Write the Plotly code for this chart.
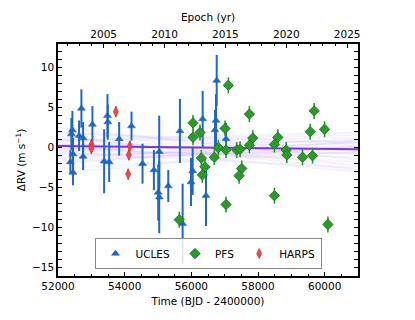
import plotly.graph_objects as go

# UCLES radial velocities (BJD - 2400000, m/s)
t_ucles = [52372, 52401, 52432, 52451, 52451, 52632, 52702, 52753, 52753, 53033,
           53384, 53484, 53494, 53535, 53835, 54205, 54536, 54877, 55007, 55037,
           55037, 55308, 55658, 55739, 55989, 56040, 56340, 56440, 56711, 56741,
           56761, 57041]
rv_ucles = [-1.8, 1.7, 2.2, -0.8, -3.1, 1.5, 4.9, 1.2, -1.1, 2.9,
            -1.7, 4.0, 3.2, -1.8, 1.1, 2.7, -2.0, -2.8, -5.6, -0.5,
            -6.2, -4.8, 2.1, -9.5, -4.3, -2.9, 3.6, -6.0, 2.2, 3.4,
            8.4, 1.1]
err_ucles = [1.5, 2.0, 2.4, 2.0, 1.6, 1.9, 2.4, 2.0, 1.7, 2.3,
             4.0, 2.7, 2.2, 2.5, 2.1, 1.8, 2.5, 2.5, 3.5, 4.5,
             4.5, 2.0, 4.0, 5.0, 3.0, 3.0, 3.5, 3.8, 2.5, 3.3,
             3.2, 2.0]

# PFS
t_pfs = [55638, 56050, 56050, 56260, 56300, 56410, 56330, 56690, 56811, 57011,
         57041, 57041, 57111, 57362, 57462, 57512, 57432, 57742, 57843, 57742,
         58493, 58594, 58493, 58845, 58865, 59335, 59636, 59566, 59686, 59997,
         60098]
rv_pfs = [-9.0, 3.1, 1.3, 1.9, -1.3, -2.4, -3.4, -1.2, 0.0, 2.4,
          -0.3, -7.1, 7.8, -0.3, -0.2, -2.6, -3.5, 4.2, 1.2, 0.3,
          0.4, 1.3, -6.0, -0.3, -0.9, -1.2, -1.0, 2.0, 4.6, 2.3,
          -9.6]
err_pfs = [1.0] * len(t_pfs)

# HARPS
t_harps = [53003, 53003, 53734, 54125, 54105, 54155]
rv_harps = [0.4, -0.1, 4.5, -0.9, -3.3, 0.2]
err_harps = [0.7, 0.7, 0.7, 0.7, 0.7, 0.7]

# best-fit trend and posterior draws (value at left / right end)
t_ends = [52000, 61000]
rv_best = [0.2, -0.2]
fan_left = [2.5, 1.8, 1.2, 0.8, 0.5, 0.3, 0.1, -0.2, -0.5, -0.8, -1.1, -1.5,
            -2.0, -2.6, -3.2, 1.5, 0.9, -0.3, -1.3, 2.0, -0.6, 0.4, -1.8, 1.0]
fan_right = [-1.5, 0.6, -2.2, 1.2, -0.8, 0.9, -1.8, 0.5, 1.0, -0.6, 0.2, -0.1,
             0.8, -0.5, 0.3, -2.8, 1.6, -1.2, 0.7, -0.4, -2.5, -3.0, 0.1, 1.9]

year_range = [2001.247, 2025.888]

blue = '#1f66c4'
green = '#2a9a2a'
red = '#f04848'
purple = '#7b35e0'
font = 'DejaVu Sans'

fig = go.Figure()

fx, fy = [], []
for a, b in zip(fan_left, fan_right):
    fx += t_ends + [None]
    fy += [a, b, None]
fig.add_trace(go.Scatter(x=fx, y=fy, mode='lines', showlegend=False,
                         line=dict(color='rgba(123,53,224,0.06)', width=2),
                         hoverinfo='skip'))
fig.add_trace(go.Scatter(x=t_ends, y=rv_best, mode='lines', showlegend=False,
                         line=dict(color=purple, width=2)))

fig.add_trace(go.Scatter(
    x=t_ucles, y=rv_ucles, mode='markers', name='UCLES',
    error_y=dict(type='data', array=err_ucles, color=blue, thickness=2, width=0),
    marker=dict(symbol='triangle-up', size=7, color=blue,
                line=dict(color=blue, width=0.5))))
fig.add_trace(go.Scatter(
    x=t_pfs, y=rv_pfs, mode='markers', name='PFS',
    error_y=dict(type='data', array=err_pfs, color=green, thickness=1.6, width=0),
    marker=dict(symbol='diamond', size=8, color=green,
                line=dict(color='#1d701d', width=0.8))))
fig.add_trace(go.Scatter(
    x=t_harps, y=rv_harps, mode='markers', name='HARPS',
    error_y=dict(type='data', array=err_harps, color=red, thickness=1.5, width=0),
    marker=dict(symbol='diamond-tall', size=7, color=red,
                line=dict(color='#d03030', width=0.8))))

# dummy trace so the top (epoch) axis is drawn
fig.add_trace(go.Scatter(x=year_range, y=[0, 0], xaxis='x2', mode='markers',
                         marker=dict(opacity=0), showlegend=False,
                         hoverinfo='skip'))

axis_common = dict(showline=True, linecolor='black', linewidth=1.5,
                   ticks='inside', ticklen=4, tickwidth=1, tickcolor='black',
                   showgrid=False, zeroline=False, automargin=False,
                   tickfont=dict(family=font, size=10.5, color='black'))

fig.update_layout(
    width=415, height=320,
    margin=dict(l=58, r=57, t=44, b=44),
    paper_bgcolor='white', plot_bgcolor='white',
    font=dict(family=font, size=10.5, color='black'),
    xaxis=dict(range=t_ends, tickvals=[52000, 54000, 56000, 58000, 60000],
               ticktext=['52000', '54000', '56000', '58000', '60000'],
               mirror=True,
               minor=dict(dtick=500, tick0=52000, ticks='inside', ticklen=2,
                          tickcolor='black'),
               title=dict(text='Time (BJD - 2400000)', standoff=6,
                          font=dict(family=font, size=10.5)),
               **axis_common),
    xaxis2=dict(range=year_range, overlaying='x', side='top',
                tickvals=[2005, 2010, 2015, 2020, 2025],
                minor=dict(dtick=1, tick0=2001, ticks='inside', ticklen=2,
                           tickcolor='black'),
                title=dict(text='Epoch (yr)', standoff=4,
                           font=dict(family=font, size=10.5)),
                **axis_common),
    yaxis=dict(range=[-16.04, 12.96], tickvals=[-15, -10, -5, 0, 5, 10],
               ticktext=['\u221215', '\u221210', '\u22125', '0', '5', '10'],
               mirror='allticks',
               minor=dict(dtick=1, tick0=0, ticks='inside', ticklen=2,
                          tickcolor='black'),
               title=dict(text='\u0394RV (m s<sup>\u22121</sup>)', standoff=4,
                          font=dict(family=font, size=10.5)),
               **axis_common),
    legend=dict(orientation='h', x=0.5, xanchor='center', y=0.03,
                yanchor='bottom', bgcolor='rgba(255,255,255,0.85)',
                bordercolor='#888888', borderwidth=1,
                font=dict(family=font, size=10.5)),
)

# drop the browser's default page margin so the figure sits at (0, 0)
fig.write_html('out.html', config={'displayModeBar': False},
               post_script="document.body.style.margin='0px';")
